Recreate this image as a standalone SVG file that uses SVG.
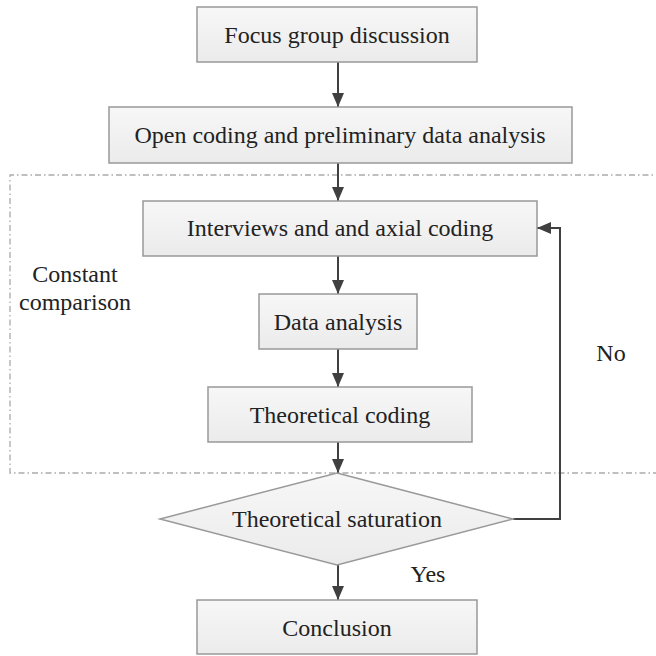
<svg xmlns="http://www.w3.org/2000/svg" width="656" height="656" viewBox="0 0 656 656">
<style>
.box{fill:url(#g);stroke:#999;stroke-width:1.5}
.t{font-family:"Liberation Serif","Times New Roman",serif;font-size:24px;fill:#222;text-anchor:middle}
.c{fill:none;stroke:#404040;stroke-width:2}
</style>
<defs>
<linearGradient id="g" x1="0" y1="0" x2="0" y2="1">
<stop offset="0" stop-color="#f7f7f7"/>
<stop offset="1" stop-color="#ebebeb"/>
</linearGradient>
<marker id="a" markerUnits="userSpaceOnUse" markerWidth="14" markerHeight="12" refX="14" refY="6" orient="auto">
<path d="M0,0 L14,6 L0,12 z" fill="#404040"/>
</marker>
</defs>
<rect width="656" height="656" fill="#fff"/>
<path d="M662,175 H10 V473 H662" fill="none" stroke="#aaa" stroke-width="1.3" stroke-dasharray="6,3,1.5,3"/>
<text class="t" x="75" y="282">Constant</text>
<text class="t" x="75" y="310">comparison</text>
<g id="connectors">
<path class="c" d="M338,62 V107" marker-end="url(#a)"/>
<path class="c" d="M338,163 V201" marker-end="url(#a)"/>
<path class="c" d="M338,256 V294" marker-end="url(#a)"/>
<path class="c" d="M338,349 V387" marker-end="url(#a)"/>
<path class="c" d="M338,442 V473" marker-end="url(#a)"/>
<path class="c" d="M338,565 V600" marker-end="url(#a)"/>
<path class="c" d="M513,519 H560 V228 H537" marker-end="url(#a)"/>
<text class="t" x="611" y="361">No</text>
<text class="t" x="428" y="582">Yes</text>
</g>
<g id="n1"><rect class="box" x="197" y="7" width="280" height="55"/><text class="t" x="337" y="43">Focus group discussion</text></g>
<g id="n2"><rect class="box" x="109" y="107" width="463" height="56"/><text class="t" x="340" y="143">Open coding and preliminary data analysis</text></g>
<g id="n3"><rect class="box" x="143" y="201" width="394" height="55"/><text class="t" x="340" y="236">Interviews and and axial coding</text></g>
<g id="n4"><rect class="box" x="259" y="294" width="158" height="55"/><text class="t" x="338" y="330">Data analysis</text></g>
<g id="n5"><rect class="box" x="208" y="387" width="264" height="55"/><text class="t" x="340" y="423">Theoretical coding</text></g>
<g id="n6"><path class="box" d="M337,473 L513,519 L337,565 L160,519 z"/><text class="t" x="337" y="527">Theoretical saturation</text></g>
<g id="n7"><rect class="box" x="197" y="600" width="280" height="54"/><text class="t" x="337" y="636">Conclusion</text></g>
</svg>
